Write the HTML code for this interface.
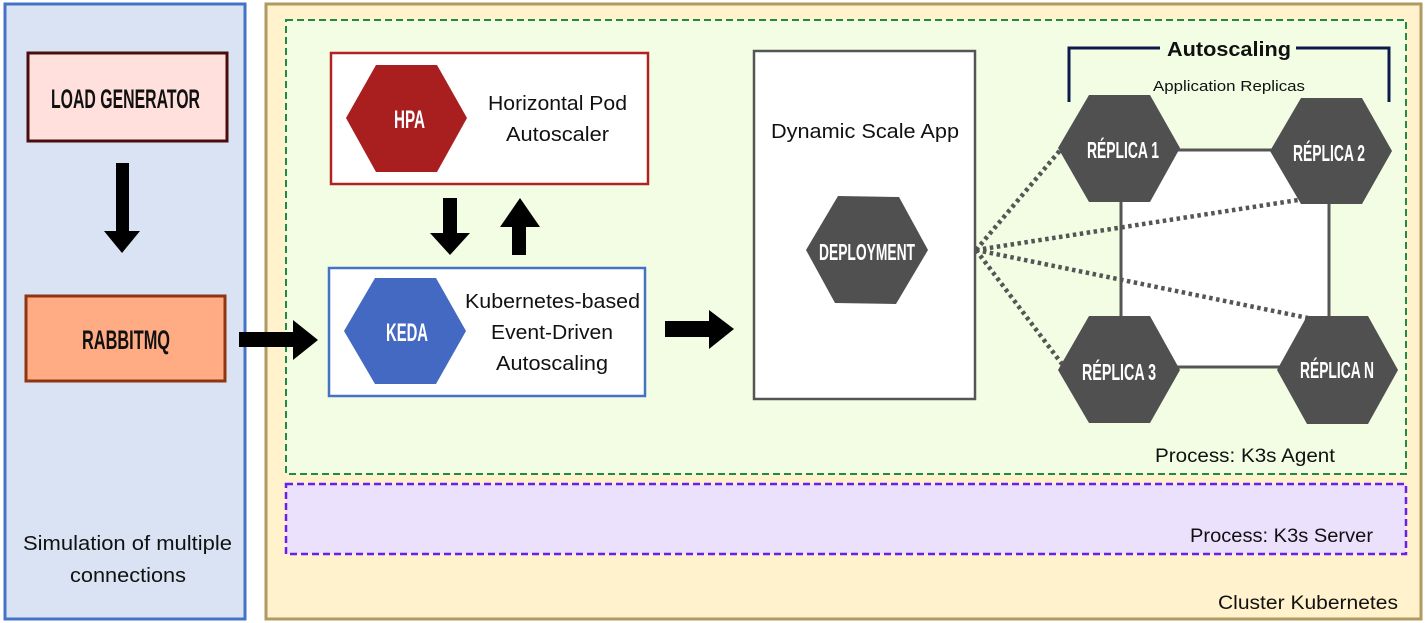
<!DOCTYPE html>
<html><head><meta charset="utf-8"><style>
html,body{margin:0;padding:0;background:#fff;}
svg{display:block;}
.t{font-family:"Liberation Sans",sans-serif;fill:#111;}
.c{font-family:"Liberation Sans",sans-serif;font-weight:bold;}
</style></head><body>
<svg width="1428" height="623" viewBox="0 0 1428 623" xmlns="http://www.w3.org/2000/svg">
<rect x="5" y="4" width="240" height="615" fill="#dae3f3" stroke="#4472c4" stroke-width="3"/>
<rect x="266" y="4" width="1155" height="615" fill="#fff2cc" stroke="#b09a62" stroke-width="3"/>
<rect x="286" y="20" width="1120" height="454" fill="#f2fde4" stroke="#1e8c45" stroke-width="2" stroke-dasharray="7 4"/>
<rect x="286" y="484" width="1120" height="70" fill="#ebe1fd" stroke="#6a1ff0" stroke-width="2.5" stroke-dasharray="7 4"/>

<rect x="28" y="53" width="199" height="88" fill="#ffe0dc" stroke="#4b0c0c" stroke-width="3"/>
<text x="51" y="108" class="c" font-size="27" fill="#111" textLength="149" lengthAdjust="spacingAndGlyphs">LOAD GENERATOR</text>
<polygon points="116,163 129,163 129,231 140,231 122,253 104,231 116,231" fill="#000"/>
<rect x="26" y="296" width="199" height="85" fill="#ffab84" stroke="#8f3510" stroke-width="3"/>
<text x="82" y="349" class="c" font-size="27" fill="#111" textLength="88" lengthAdjust="spacingAndGlyphs">RABBITMQ</text>
<polygon points="239,332 293,332 293,320 318,340 293,360 293,347 239,347" fill="#000"/>

<rect x="331" y="53" width="317" height="131" fill="#fff" stroke="#b22222" stroke-width="2.5"/>
<polygon points="346,118 376,65 437,65 467,118 437,172 376,172" fill="#a91e1e"/>
<text x="394" y="128" class="c" font-size="25" fill="#fff" textLength="31" lengthAdjust="spacingAndGlyphs">HPA</text>
<text x="488" y="110" class="t" font-size="20" textLength="139" lengthAdjust="spacingAndGlyphs">Horizontal Pod</text>
<text x="506" y="141" class="t" font-size="20" textLength="103" lengthAdjust="spacingAndGlyphs">Autoscaler</text>
<polygon points="443,198 457,198 457,233 470,233 450,255 430,233 443,233" fill="#000"/>
<polygon points="512,255 526,255 526,227 540,227 520,198 500,227 512,227" fill="#000"/>

<rect x="329" y="268" width="316" height="128" fill="#fff" stroke="#4472c4" stroke-width="2.5"/>
<polygon points="344,331 375,278 436,278 466,331 436,384 375,384" fill="#4469c2"/>
<text x="386" y="341" class="c" font-size="25" fill="#fff" textLength="42" lengthAdjust="spacingAndGlyphs">KEDA</text>
<text x="465" y="308" class="t" font-size="20" textLength="175" lengthAdjust="spacingAndGlyphs">Kubernetes-based</text>
<text x="491" y="339" class="t" font-size="20" textLength="122" lengthAdjust="spacingAndGlyphs">Event-Driven</text>
<text x="496" y="370" class="t" font-size="20" textLength="112" lengthAdjust="spacingAndGlyphs">Autoscaling</text>
<polygon points="665,321 709,321 709,310 734,329 709,349 709,337 665,337" fill="#000"/>

<rect x="754" y="51" width="221" height="348" fill="#fff" stroke="#555" stroke-width="2.5"/>
<text x="771" y="138" class="t" font-size="20" textLength="188" lengthAdjust="spacingAndGlyphs">Dynamic Scale App</text>
<polygon points="806,250 838,196 899,197 928,250 896,304 835,303" fill="#505050"/>
<text x="819" y="260" class="c" font-size="23" fill="#fff" textLength="96" lengthAdjust="spacingAndGlyphs">DEPLOYMENT</text>

<rect x="1121" y="150" width="208" height="217" fill="#fff" stroke="#555" stroke-width="3"/>
<g stroke="#555" stroke-width="4.5" stroke-dasharray="3.5 3.5" fill="none">
<line x1="976" y1="250" x2="1062" y2="148"/>
<line x1="976" y1="250" x2="1298" y2="200"/>
<line x1="976" y1="250" x2="1308" y2="318"/>
<line x1="976" y1="250" x2="1062" y2="364"/>
</g>
<g fill="#505050">
<polygon points="1058,148 1089,95 1150,95 1180,148 1150,202 1089,202"/>
<polygon points="1270,151 1301,98 1362,98 1392,151 1362,204 1301,204"/>
<polygon points="1058,370 1089,316 1150,316 1180,370 1150,423 1089,423"/>
<polygon points="1277,370 1307,316 1368,316 1398,370 1368,424 1307,424"/>
</g>
<g class="c" font-size="23" fill="#fff">
<text x="1087" y="158" textLength="72" lengthAdjust="spacingAndGlyphs">RÉPLICA 1</text>
<text x="1293" y="161" textLength="72" lengthAdjust="spacingAndGlyphs">RÉPLICA 2</text>
<text x="1082" y="380" textLength="74" lengthAdjust="spacingAndGlyphs">RÉPLICA 3</text>
<text x="1300" y="378" textLength="74" lengthAdjust="spacingAndGlyphs">RÉPLICA N</text>
</g>
<polyline points="1069,102 1069,48 1160,48" fill="none" stroke="#0d1a4a" stroke-width="3"/>
<polyline points="1296,48 1389,48 1389,102" fill="none" stroke="#0d1a4a" stroke-width="3"/>
<text x="1167" y="56" class="t" font-size="20" font-weight="bold" textLength="124" lengthAdjust="spacingAndGlyphs">Autoscaling</text>
<text x="1153" y="91" class="t" font-size="15" textLength="152" lengthAdjust="spacingAndGlyphs">Application Replicas</text>

<text x="1155" y="462" class="t" font-size="19" textLength="180" lengthAdjust="spacingAndGlyphs">Process: K3s Agent</text>
<text x="1190" y="542" class="t" font-size="19" textLength="183" lengthAdjust="spacingAndGlyphs">Process: K3s Server</text>
<text x="1218" y="609" class="t" font-size="19" textLength="180" lengthAdjust="spacingAndGlyphs">Cluster Kubernetes</text>
<text x="23" y="550" class="t" font-size="20" textLength="209" lengthAdjust="spacingAndGlyphs">Simulation of multiple</text>
<text x="70" y="582" class="t" font-size="20" textLength="116" lengthAdjust="spacingAndGlyphs">connections</text>
</svg>
</body></html>
